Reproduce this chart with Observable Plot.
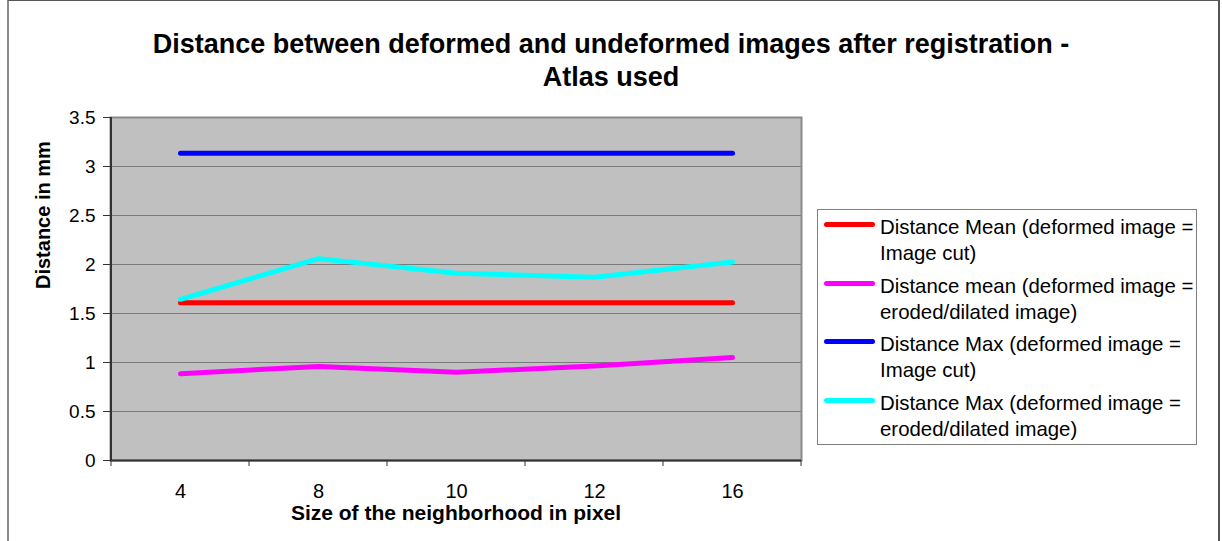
<!DOCTYPE html>
<html>
<head>
<meta charset="utf-8">
<script src="https://cdn.jsdelivr.net/npm/d3@7"></script>
<script src="https://cdn.jsdelivr.net/npm/@observablehq/plot@0.6"></script>
<style>
  html, body { margin: 0; padding: 0; background: #fff; }
  #wrap { position: relative; width: 1222px; height: 541px; overflow: hidden; font-family: "Liberation Sans", Arial, sans-serif; }
  #edge { position: absolute; left: 7px; top: 0; width: 1209px; height: 600px;
          border-left: 2px solid #8c8c8c; border-top: 1px solid #555; border-right: 2px solid #555; }
  #title { position: relative; height: 105px; box-sizing: border-box; padding-top: 28px;
           text-align: center; font-weight: bold; font-size: 27px; line-height: 33px; color: #000; }
  #title div { width: 100%; }
  #legend { position: absolute; left: 817px; top: 209px; width: 380px; height: 236px; box-sizing: border-box;
            border: 1px solid #808080; background: #fff; padding-top: 4px; }
  .item { position: relative; height: 58.7px; }
  .sw { position: absolute; left: 6px; top: 8px; width: 51px; height: 5px; border-radius: 3px; }
  .lab { position: absolute; left: 62px; top: 0; font-size: 20.4px; line-height: 26px; color: #000; white-space: nowrap; }
  svg { display: block; }
</style>
</head>
<body>
<div id="wrap">
  <div id="edge"></div>
  <div id="title">
    <div>Distance between deformed and undeformed images after registration -</div>
    <div>Atlas used</div>
  </div>
  <div id="chart"></div>
  <div id="legend"></div>
</div>
<script>
// Neighborhood sizes (categories on the x axis)
const sizes = ["4", "8", "10", "12", "16"];

// Distances in mm for each series
const meanCut    = [1.61, 1.61, 1.61, 1.61, 1.61];
const meanEroded = [0.885, 0.96, 0.90, 0.965, 1.05];
const maxCut     = [3.135, 3.135, 3.135, 3.135, 3.135];
const maxEroded  = [1.645, 2.06, 1.91, 1.87, 2.025];

const seriesNames = [
  ["Distance Mean (deformed image =", "Image cut)"],
  ["Distance mean (deformed image =", "eroded/dilated image)"],
  ["Distance Max (deformed image =", "Image cut)"],
  ["Distance Max (deformed image =", "eroded/dilated image)"]
];
const seriesValues = [meanCut, meanEroded, maxCut, maxEroded];
const seriesColors = ["#ff0000", "#ff00ff", "#0000ff", "#00ffff"];

const yTicks = [0, 0.5, 1, 1.5, 2, 2.5, 3, 3.5];
const xTitle = "Size of the neighborhood in pixel";
const yTitle = "Distance in mm";

// Long-format rows for the line marks
const rows = [];
seriesValues.forEach((vals, s) => {
  vals.forEach((v, i) => rows.push({series: s, size: sizes[i], value: v}));
});

const font = "Liberation Sans, Arial, sans-serif";

const chart = Plot.plot({
  width: 1222,
  height: 436,
  marginTop: 12,
  marginBottom: 81,
  marginLeft: 110,
  marginRight: 421,
  style: {fontFamily: font, background: "transparent", color: "#000"},
  x: {type: "band", domain: sizes, padding: 0, label: null, axis: null},
  y: {domain: [0, 3.5], label: null, axis: null},
  marks: [
    Plot.frame({fill: "#c0c0c0", stroke: null}),
    Plot.gridY(yTicks.filter(t => t > 0 && t < 3.5), {stroke: "#7a7a7a", strokeOpacity: 1, strokeWidth: 1}),
    Plot.frame({stroke: "#8a8a8a", strokeWidth: 2}),
    Plot.ruleY([0], {stroke: "#333", strokeWidth: 2}),
    Plot.axisY({ticks: yTicks, tickSize: 7, tickPadding: 8, fontSize: 19, stroke: "#333", tickFormat: d => String(d)}),
    Plot.axisX({tickSize: 0, tickPadding: 23, fontSize: 20}),
    ...seriesValues.map((_, s) =>
      Plot.line(rows.filter(r => r.series === s), {
        x: "size", y: "value", stroke: seriesColors[s], strokeWidth: 5,
        strokeLinecap: "round", strokeLinejoin: "round"
      })
    ),
    Plot.text([xTitle], {frameAnchor: "bottom", dy: 53, fontSize: 21, fontWeight: "bold", lineAnchor: "middle", fill: "#000"}),
    Plot.text([yTitle], {frameAnchor: "left", dx: -67, rotate: -90, fontSize: 20, fontWeight: "bold", fill: "#000"})
  ]
});
document.getElementById("chart").appendChild(chart);

// Category boundary ticks and the left axis line, placed with the band scale
const xs = chart.scale("x");
const ys = chart.scale("y");
const y0 = ys.apply(0), yTop = ys.apply(3.5);
const bounds = sizes.map(s => xs.apply(s));
bounds.push(xs.apply(sizes[sizes.length - 1]) + xs.bandwidth);
const g = d3.select(chart).append("g").attr("stroke", "#333");
g.selectAll("line.b").data(bounds).join("line")
  .attr("x1", d => d).attr("x2", d => d)
  .attr("y1", y0).attr("y2", y0 + 6).attr("stroke-width", 1);
g.append("line").attr("x1", bounds[0]).attr("x2", bounds[0])
  .attr("y1", yTop).attr("y2", y0).attr("stroke-width", 2);

// Legend
const legend = d3.select("#legend");
seriesNames.forEach((lines, s) => {
  const item = legend.append("div").attr("class", "item");
  item.append("div").attr("class", "sw").style("background", seriesColors[s]);
  item.append("div").attr("class", "lab").html(lines.join("<br>"));
});
</script>
</body>
</html>
